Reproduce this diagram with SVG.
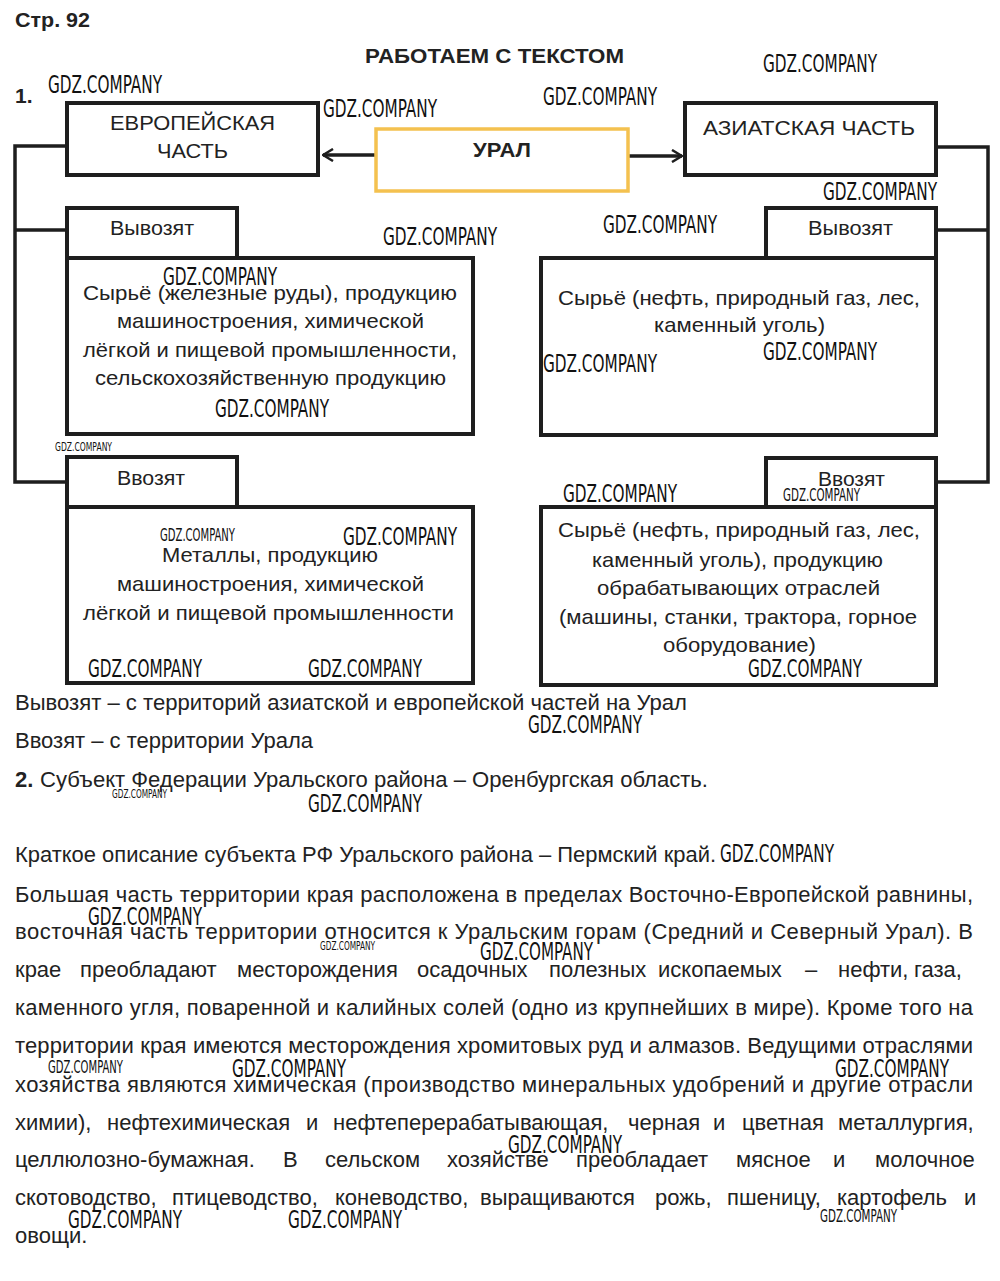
<svg xmlns="http://www.w3.org/2000/svg" width="1000" height="1281" viewBox="0 0 1000 1281">
<defs>
<style>
text{font-family:"Liberation Sans",Arial,sans-serif;fill:#222}
.b{font-weight:bold}
.h{font-size:20px}
.bx{font-size:21px}
.t{font-size:22px}
.box{fill:#fff;stroke:#1e1e1e;stroke-width:4}
.ural{fill:#fff;stroke:#f4c14f;stroke-width:3.5}
.con{fill:none;stroke:#1e1e1e;stroke-width:3.5}
.wm{font-family:"DejaVu Sans Condensed","Liberation Sans Narrow","DejaVu Sans",sans-serif;font-stretch:condensed;font-weight:200;fill:#111}
.wl{font-size:25px}
.wmd{font-size:17px}
.ws{font-size:13px}
</style>
<marker id="arr" viewBox="0 0 12 14" refX="11" refY="7" markerWidth="12" markerHeight="14" markerUnits="userSpaceOnUse" orient="auto">
<path d="M1,1 L11,7 L1,13" fill="none" stroke="#1e1e1e" stroke-width="2.5"/>
</marker>
</defs>
<rect width="1000" height="1281" fill="#fff"/>

<g id="header">
<text class="h b" x="15" y="27" textLength="75" lengthAdjust="spacingAndGlyphs">Стр. 92</text>
<text class="h b" x="365" y="63" textLength="259" lengthAdjust="spacingAndGlyphs">РАБОТАЕМ С ТЕКСТОМ</text>
<text class="h b" x="15" y="103" style="font-size:21px">1.</text>
</g>

<g id="connectors">
<path class="con" d="M66,146 H15 V482 H66 M15,230 H66"/>
<path class="con" d="M937,147 H988 V482 H937 M988,230 H937"/>
<line class="con" x1="375" y1="155" x2="323" y2="155" stroke-width="3" marker-end="url(#arr)"/>
<line class="con" x1="629" y1="156" x2="682" y2="156" stroke-width="3" marker-end="url(#arr)"/>
</g>

<g id="europe">
<rect class="box" x="67" y="103" width="251" height="72"/>
<text class="bx" x="110" y="130" textLength="165" lengthAdjust="spacingAndGlyphs">ЕВРОПЕЙСКАЯ</text>
<text class="bx" x="157" y="158" textLength="71" lengthAdjust="spacingAndGlyphs">ЧАСТЬ</text>
</g>
<g id="ural">
<rect class="ural" x="376" y="129" width="252" height="62"/>
<text class="bx b" x="473" y="157" textLength="58" lengthAdjust="spacingAndGlyphs">УРАЛ</text>
</g>
<g id="asia">
<rect class="box" x="685" y="103" width="251" height="72"/>
<text class="bx" x="703" y="135" textLength="212" lengthAdjust="spacingAndGlyphs">АЗИАТСКАЯ ЧАСТЬ</text>
</g>

<g id="eu-export">
<rect class="box" x="67" y="208" width="170" height="50"/>
<text class="bx" x="110" y="235" textLength="84" lengthAdjust="spacingAndGlyphs">Вывозят</text>
<rect class="box" x="67" y="258" width="406" height="176"/>
<text class="bx" x="83" y="300" textLength="374" lengthAdjust="spacingAndGlyphs">Сырьё (железные руды), продукцию</text>
<text class="bx" x="117" y="328" textLength="307" lengthAdjust="spacingAndGlyphs">машиностроения, химической</text>
<text class="bx" x="83" y="357" textLength="374" lengthAdjust="spacingAndGlyphs">лёгкой и пищевой промышленности,</text>
<text class="bx" x="95" y="385" textLength="351" lengthAdjust="spacingAndGlyphs">сельскохозяйственную продукцию</text>
</g>

<g id="eu-import">
<rect class="box" x="67" y="457" width="170" height="50"/>
<text class="bx" x="117" y="485" textLength="68" lengthAdjust="spacingAndGlyphs">Ввозят</text>
<rect class="box" x="67" y="507" width="406" height="176"/>
<text class="bx" x="162" y="562" textLength="216" lengthAdjust="spacingAndGlyphs">Металлы, продукцию</text>
<text class="bx" x="117" y="591" textLength="307" lengthAdjust="spacingAndGlyphs">машиностроения, химической</text>
<text class="bx" x="83" y="620" textLength="371" lengthAdjust="spacingAndGlyphs">лёгкой и пищевой промышленности</text>
</g>

<g id="as-export">
<rect class="box" x="766" y="208" width="170" height="50"/>
<text class="bx" x="808" y="235" textLength="85" lengthAdjust="spacingAndGlyphs">Вывозят</text>
<rect class="box" x="541" y="258" width="395" height="177"/>
<text class="bx" x="558" y="305" textLength="362" lengthAdjust="spacingAndGlyphs">Сырьё (нефть, природный газ, лес,</text>
<text class="bx" x="654" y="332" textLength="171" lengthAdjust="spacingAndGlyphs">каменный уголь)</text>
</g>

<g id="as-import">
<rect class="box" x="766" y="458" width="170" height="49"/>
<text class="bx" x="818" y="486" textLength="67" lengthAdjust="spacingAndGlyphs">Ввозят</text>
<rect class="box" x="541" y="507" width="395" height="178"/>
<text class="bx" x="558" y="537" textLength="362" lengthAdjust="spacingAndGlyphs">Сырьё (нефть, природный газ, лес,</text>
<text class="bx" x="592" y="567" textLength="291" lengthAdjust="spacingAndGlyphs">каменный уголь), продукцию</text>
<text class="bx" x="597" y="595" textLength="283" lengthAdjust="spacingAndGlyphs">обрабатывающих отраслей</text>
<text class="bx" x="559" y="624" textLength="358" lengthAdjust="spacingAndGlyphs">(машины, станки, трактора, горное</text>
<text class="bx" x="663" y="652" textLength="153" lengthAdjust="spacingAndGlyphs">оборудование)</text>
</g>

<g id="body">
<text class="t" x="15" y="710" textLength="672" lengthAdjust="spacingAndGlyphs">Вывозят – с территорий азиатской и европейской частей на Урал</text>
<text class="t" x="15" y="748" textLength="298" lengthAdjust="spacingAndGlyphs">Ввозят – с территории Урала</text>
<text class="t b" x="15" y="787">2.</text>
<text class="t" x="40" y="787" textLength="668" lengthAdjust="spacingAndGlyphs">Субъект Федерации Уральского района – Оренбургская область.</text>
<text class="t" x="15" y="862" textLength="701" lengthAdjust="spacingAndGlyphs">Краткое описание субъекта РФ Уральского района – Пермский край.</text>

<text class="t" x="15" y="902" textLength="958" lengthAdjust="spacing">Большая часть территории края расположена в пределах Восточно-Европейской равнины,</text>
<text class="t" x="15" y="939" textLength="958" lengthAdjust="spacing">восточная часть территории относится к Уральским горам (Средний и Северный Урал). В</text>
<text class="t" y="977"><tspan x="15">крае</tspan><tspan x="80">преобладают</tspan><tspan x="237">месторождения</tspan><tspan x="417">осадочных</tspan><tspan x="549">полезных</tspan><tspan x="658">ископаемых</tspan><tspan x="805">–</tspan><tspan x="838">нефти,</tspan><tspan x="914">газа,</tspan></text>
<text class="t" x="15" y="1015" textLength="958" lengthAdjust="spacing">каменного угля, поваренной и калийных солей (одно из крупнейших в мире). Кроме того на</text>
<text class="t" x="15" y="1053" textLength="958" lengthAdjust="spacing">территории края имеются месторождения хромитовых руд и алмазов. Ведущими отраслями</text>
<text class="t" x="15" y="1092" textLength="958" lengthAdjust="spacing">хозяйства являются химическая (производство минеральных удобрений и другие отрасли</text>
<text class="t" y="1130"><tspan x="15">химии),</tspan><tspan x="107">нефтехимическая</tspan><tspan x="306">и</tspan><tspan x="333">нефтеперерабатывающая,</tspan><tspan x="628">черная</tspan><tspan x="713">и</tspan><tspan x="742">цветная</tspan><tspan x="838">металлургия,</tspan></text>
<text class="t" y="1167"><tspan x="15">целлюлозно-бумажная.</tspan><tspan x="283">В</tspan><tspan x="325">сельском</tspan><tspan x="447">хозяйстве</tspan><tspan x="576">преобладает</tspan><tspan x="736">мясное</tspan><tspan x="833">и</tspan><tspan x="875">молочное</tspan></text>
<text class="t" y="1205"><tspan x="15">скотоводство,</tspan><tspan x="172">птицеводство,</tspan><tspan x="335">коневодство,</tspan><tspan x="480">выращиваются</tspan><tspan x="655">рожь,</tspan><tspan x="727">пшеницу,</tspan><tspan x="837">картофель</tspan><tspan x="964">и</tspan></text>
<text class="t" x="15" y="1243">овощи.</text>
</g>

<g id="watermarks">
<text class="wm wl" x="48" y="93" textLength="114" lengthAdjust="spacingAndGlyphs">GDZ.COMPANY</text>
<text class="wm wl" x="323" y="117" textLength="114" lengthAdjust="spacingAndGlyphs">GDZ.COMPANY</text>
<text class="wm wl" x="543" y="105" textLength="114" lengthAdjust="spacingAndGlyphs">GDZ.COMPANY</text>
<text class="wm wl" x="763" y="72" textLength="114" lengthAdjust="spacingAndGlyphs">GDZ.COMPANY</text>
<text class="wm wl" x="823" y="200" textLength="114" lengthAdjust="spacingAndGlyphs">GDZ.COMPANY</text>
<text class="wm wl" x="603" y="233" textLength="114" lengthAdjust="spacingAndGlyphs">GDZ.COMPANY</text>
<text class="wm wl" x="383" y="245" textLength="114" lengthAdjust="spacingAndGlyphs">GDZ.COMPANY</text>
<text class="wm wl" x="163" y="285" textLength="114" lengthAdjust="spacingAndGlyphs">GDZ.COMPANY</text>
<text class="wm wl" x="215" y="417" textLength="114" lengthAdjust="spacingAndGlyphs">GDZ.COMPANY</text>
<text class="wm wl" x="543" y="372" textLength="114" lengthAdjust="spacingAndGlyphs">GDZ.COMPANY</text>
<text class="wm wl" x="763" y="360" textLength="114" lengthAdjust="spacingAndGlyphs">GDZ.COMPANY</text>
<text class="wm ws" x="55" y="451" textLength="57" lengthAdjust="spacingAndGlyphs">GDZ.COMPANY</text>
<text class="wm wl" x="563" y="502" textLength="114" lengthAdjust="spacingAndGlyphs">GDZ.COMPANY</text>
<text class="wm wmd" x="783" y="501" textLength="77" lengthAdjust="spacingAndGlyphs">GDZ.COMPANY</text>
<text class="wm wmd" x="160" y="541" textLength="75" lengthAdjust="spacingAndGlyphs">GDZ.COMPANY</text>
<text class="wm wl" x="343" y="545" textLength="114" lengthAdjust="spacingAndGlyphs">GDZ.COMPANY</text>
<text class="wm wl" x="88" y="677" textLength="114" lengthAdjust="spacingAndGlyphs">GDZ.COMPANY</text>
<text class="wm wl" x="308" y="677" textLength="114" lengthAdjust="spacingAndGlyphs">GDZ.COMPANY</text>
<text class="wm wl" x="748" y="677" textLength="114" lengthAdjust="spacingAndGlyphs">GDZ.COMPANY</text>
<text class="wm wl" x="528" y="733" textLength="114" lengthAdjust="spacingAndGlyphs">GDZ.COMPANY</text>
<text class="wm ws" x="112" y="798" textLength="55" lengthAdjust="spacingAndGlyphs">GDZ.COMPANY</text>
<text class="wm wl" x="308" y="812" textLength="114" lengthAdjust="spacingAndGlyphs">GDZ.COMPANY</text>
<text class="wm wl" x="720" y="862" textLength="114" lengthAdjust="spacingAndGlyphs">GDZ.COMPANY</text>
<text class="wm wl" x="88" y="925" textLength="114" lengthAdjust="spacingAndGlyphs">GDZ.COMPANY</text>
<text class="wm ws" x="320" y="950" textLength="55" lengthAdjust="spacingAndGlyphs">GDZ.COMPANY</text>
<text class="wm wl" x="480" y="960" textLength="113" lengthAdjust="spacingAndGlyphs">GDZ.COMPANY</text>
<text class="wm wmd" x="48" y="1073" textLength="75" lengthAdjust="spacingAndGlyphs">GDZ.COMPANY</text>
<text class="wm wl" x="232" y="1077" textLength="114" lengthAdjust="spacingAndGlyphs">GDZ.COMPANY</text>
<text class="wm wl" x="835" y="1077" textLength="114" lengthAdjust="spacingAndGlyphs">GDZ.COMPANY</text>
<text class="wm wl" x="508" y="1153" textLength="114" lengthAdjust="spacingAndGlyphs">GDZ.COMPANY</text>
<text class="wm wl" x="68" y="1228" textLength="114" lengthAdjust="spacingAndGlyphs">GDZ.COMPANY</text>
<text class="wm wl" x="288" y="1228" textLength="114" lengthAdjust="spacingAndGlyphs">GDZ.COMPANY</text>
<text class="wm wmd" x="820" y="1222" textLength="77" lengthAdjust="spacingAndGlyphs">GDZ.COMPANY</text>
</g>
</svg>
